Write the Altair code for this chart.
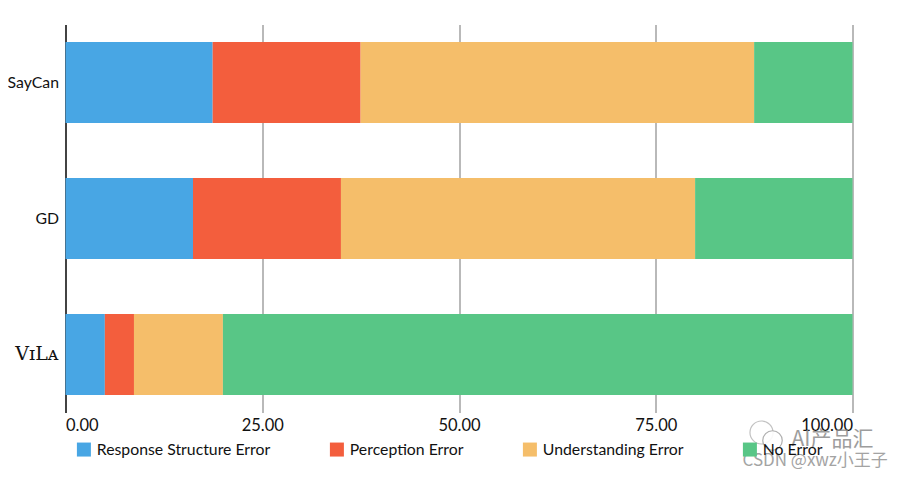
import altair as alt
import pandas as pd

methods = ["SayCan", "GD", "VɪLᴀ"]
error_types = ["Response Structure Error", "Perception Error", "Understanding Error", "No Error"]
response_structure = [18.7, 16.2, 5.0]
perception = [18.8, 18.8, 3.7]
understanding = [50.0, 45.0, 11.3]
no_error = [12.5, 20.0, 80.0]
colors = ["#48A6E4", "#F35E3D", "#F5BE6A", "#58C686"]
x_ticks = [0, 25, 50, 75, 100]
watermark = ["AI产品汇", "CSDN @xwz小王子"]

series = [response_structure, perception, understanding, no_error]
rows = []
for k, (name, vals) in enumerate(zip(error_types, series)):
    for m, v in zip(methods, vals):
        rows.append({"method": m, "error": name, "value": v, "order": k})
df = pd.DataFrame(rows)

FONT = "Lato"
y_scale = alt.Scale(domain=methods, paddingInner=0.404, paddingOuter=0.1285)

bars = alt.Chart(df).mark_bar(opacity=1).encode(
    x=alt.X("value:Q", stack="zero",
            scale=alt.Scale(domain=[0, 100], nice=False),
            axis=alt.Axis(values=x_ticks, format=".2f", title=None, grid=True,
                          gridColor="#8a8a8a", gridWidth=1.2, gridOpacity=1,
                          domain=False, ticks=False, labelPadding=5,
                          labelFont=FONT, labelFontSize=16.5, labelColor="#111111")),
    y=alt.Y("method:N", sort=methods, scale=y_scale,
            axis=alt.Axis(title=None, domain=True, domainColor="#111111", domainWidth=1.4,
                          ticks=False, grid=False, labelPadding=7, labelFontSize=15.8,
                          labelFont=FONT, labelColor="#111111",
                          labelExpr="indexof(datum.value, 'ᴀ') >= 0 ? '' : datum.value")),
    color=alt.Color("error:N",
                    scale=alt.Scale(domain=error_types, range=colors),
                    legend=alt.Legend(title=None, orient="none", direction="horizontal",
                                      legendX=10.5, legendY=417, symbolType="square",
                                      symbolSize=196, symbolStrokeWidth=0, symbolOpacity=1,
                                      labelFont=FONT, labelFontSize=15.8, labelColor="#111111",
                                      columnPadding=58, labelOffset=5, labelLimit=300,
                                      padding=0)),
    order=alt.Order("order:Q"),
)

serif_label = alt.Chart(pd.DataFrame({"method": [methods[2]]})).mark_text(
    font="DejaVu Serif", fontSize=19, color="#111111", align="right", baseline="middle"
).encode(
    text="method:N",
    y=alt.Y("method:N", sort=methods, scale=y_scale),
    x=alt.value(-7),
)

wm1 = alt.Chart(pd.DataFrame({"t": [watermark[0]]})).mark_text(
    font="Noto Sans CJK SC", fontSize=21, color="#8c8c8c", align="left", baseline="middle", opacity=0.85
).encode(text="t:N", x=alt.value(726), y=alt.value(415))
wm2 = alt.Chart(pd.DataFrame({"t": [watermark[1]]})).mark_text(
    font="Noto Sans CJK SC", fontSize=17, color="#9a9a9a", align="left", baseline="middle", opacity=0.9
).encode(text="t:N", x=alt.value(677), y=alt.value(436))
icon1 = alt.Chart(pd.DataFrame({"k": [0]})).mark_point(
    shape="circle", size=531, filled=False, color="#a8a8a8", strokeWidth=1.2
).encode(x=alt.value(696), y=alt.value(408))
icon2 = alt.Chart(pd.DataFrame({"k": [0]})).mark_point(
    shape="circle", size=380, filled=True, fill="white", stroke="#a8a8a8", strokeWidth=1.2, opacity=0.9
).encode(x=alt.value(707), y=alt.value(416))

chart = alt.layer(bars, serif_label, icon1, icon2, wm1, wm2).properties(
    width=787, height=388,
    autosize=alt.AutoSizeParams(type="none"),
    padding={"left": 57.5, "top": 16.5, "right": 36, "bottom": 66},
    background="white",
).configure_view(stroke=None)

chart.save("out.html", embed_options={"renderer": "svg", "actions": False})
